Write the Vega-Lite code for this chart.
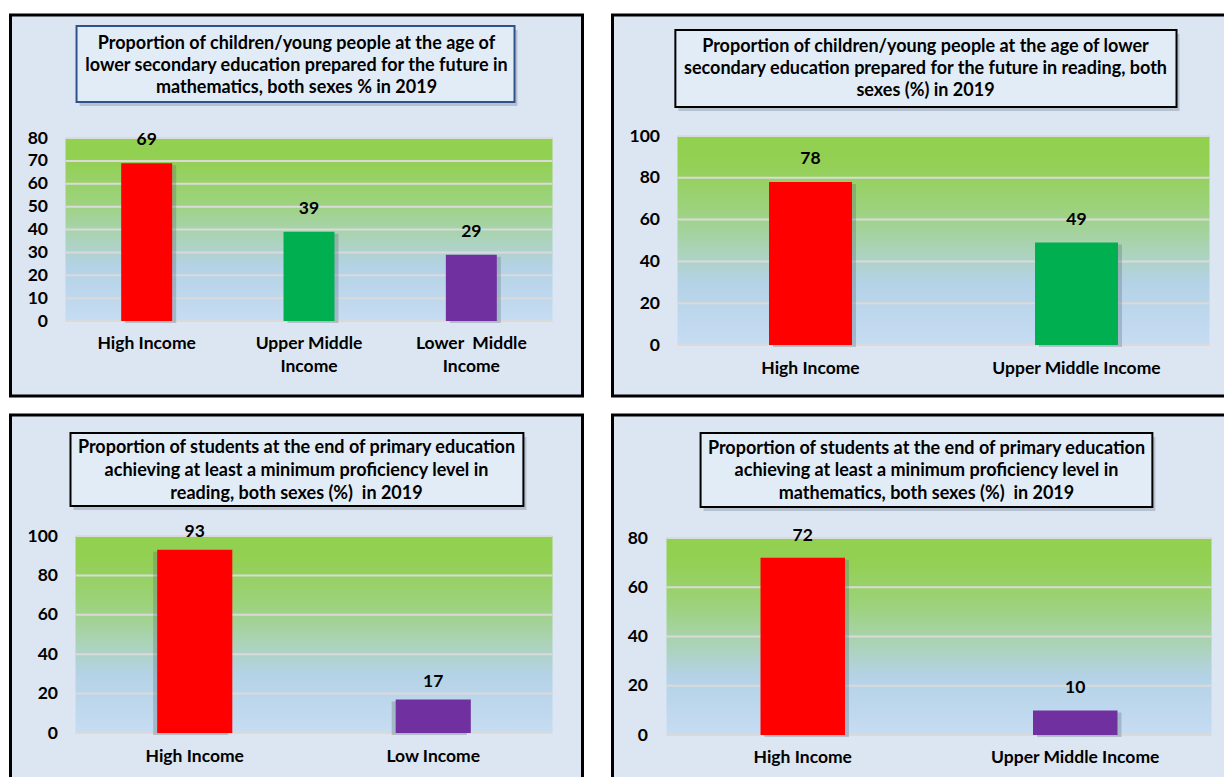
{
  "$schema": "https://vega.github.io/schema/vega-lite/v6.json",
  "background": "white",
  "padding": {"left": 8.5, "top": 13, "right": 0, "bottom": 0},
  "config": {
    "view": {"fill": "#dce6f2", "stroke": "#000000", "strokeWidth": 3},
    "axis": {"grid": false, "domain": false, "ticks": false, "labelFont": "Lato", "labelFontSize": 17.5, "labelFontWeight": "bold", "labelColor": "#000000", "labelAngle": 0, "labelLimit": 0},
    "text": {"font": "Lato", "fontWeight": "bold", "fontSize": 17.5, "color": "#000000"}
  },
  "resolve": {"scale": {"color": "independent"}},
  "spacing": 15,
  "vconcat": [
    {
      "spacing": 26,
      "resolve": {"scale": {"color": "independent"}},
      "hconcat": [
        {
          "width": 572, "height": 381,
          "data": {"values": [
            {"group": "High Income", "value": 69},
            {"group": "Upper Middle Income", "value": 39},
            {"group": "Lower Middle Income", "value": 29}
          ]},
          "layer": [
            {
              "data": {"values": [{}]},
              "mark": {"type": "rect", "fill": {"gradient": "linear", "x1": 0, "y1": 0, "x2": 0, "y2": 1, "stops": [
                {"offset": 0, "color": "#92d050"}, {"offset": 0.12, "color": "#93d053"}, {"offset": 0.35, "color": "#9dd27d"},
                {"offset": 0.55, "color": "#abd3b9"}, {"offset": 0.7, "color": "#b4d2e6"}, {"offset": 1, "color": "#c6dcf2"}]}},
              "encoding": {
                "x": {"datum": "High Income", "type": "nominal", "bandPosition": 0},
                "x2": {"datum": "Lower Middle Income", "bandPosition": 1},
                "y": {"datum": 0, "type": "quantitative"},
                "y2": {"datum": 80}
              }
            },
            {
              "data": {"values": [{"tick": 0}, {"tick": 10}, {"tick": 20}, {"tick": 30}, {"tick": 40}, {"tick": 50}, {"tick": 60}, {"tick": 70}, {"tick": 80}]},
              "mark": {"type": "rule", "color": "#dadada", "strokeWidth": 2},
              "encoding": {
                "x": {"datum": "High Income", "type": "nominal", "bandPosition": 0},
                "x2": {"datum": "Lower Middle Income", "bandPosition": 1},
                "y": {"field": "tick", "type": "quantitative"}
              }
            },
            {
              "mark": {"type": "bar", "width": {"band": 0.314}, "color": "#5a6675", "opacity": 0.3, "xOffset": 4, "yOffset": 2},
              "encoding": {
                "x": {"field": "group", "type": "nominal", "sort": null},
                "y": {"field": "value", "type": "quantitative"}
              }
            },
            {
              "mark": {"type": "bar", "width": {"band": 0.314}},
              "encoding": {
                "x": {"field": "group", "type": "nominal", "sort": null,
                  "scale": {"domain": ["High Income", "Upper Middle Income", "Lower Middle Income"], "range": [55, 542], "paddingInner": 0, "paddingOuter": 0},
                  "axis": {"orient": "bottom", "offset": -75, "title": null, "labelPadding": 13, "labelLineHeight": 23,
                    "labelExpr": "datum.value == 'Upper Middle Income' ? ['Upper Middle', 'Income'] : datum.value == 'Lower Middle Income' ? ['Lower \u00a0Middle', 'Income'] : datum.label"}},
                "y": {"field": "value", "type": "quantitative",
                  "scale": {"domain": [0, 80], "range": [306, 123], "nice": false},
                  "axis": {"orient": "left", "offset": -55, "title": null, "labelPadding": 18, "tickCount": 8}},
                "color": {"field": "group", "type": "nominal", "legend": null,
                  "scale": {"domain": ["High Income", "Upper Middle Income", "Lower Middle Income"], "range": ["#ff0000", "#00b050", "#7030a0"]}}
              }
            },
            {
              "mark": {"type": "text", "baseline": "middle", "dy": -23},
              "encoding": {
                "x": {"field": "group", "type": "nominal", "sort": null},
                "y": {"field": "value", "type": "quantitative"},
                "text": {"field": "value", "type": "quantitative"}
              }
            },
            {
              "data": {"values": [{}]},
              "mark": {"type": "rect", "fill": "#8794a6", "opacity": 0.45, "xOffset": 3, "x2Offset": 3, "yOffset": 4, "y2Offset": 4},
              "encoding": {
                "x": {"datum": "High Income", "type": "nominal", "bandPosition": 0.068},
                "x2": {"datum": "Lower Middle Income", "bandPosition": 0.766},
                "y": {"datum": 129, "type": "quantitative"},
                "y2": {"datum": 95.7}
              }
            },
            {
              "data": {"values": [{}]},
              "mark": {"type": "rect", "fill": "#e2ecf7", "stroke": "#2f528f", "strokeWidth": 2},
              "encoding": {
                "x": {"datum": "High Income", "type": "nominal", "bandPosition": 0.068},
                "x2": {"datum": "Lower Middle Income", "bandPosition": 0.766},
                "y": {"datum": 129, "type": "quantitative"},
                "y2": {"datum": 95.7}
              }
            },
            {
              "data": {"values": [{}]},
              "mark": {"type": "text", "lineBreak": "\n", "lineHeight": 22, "fontSize": 18, "baseline": "middle", "align": "center"},
              "encoding": {
                "y": {"datum": 121.1, "type": "quantitative"},
                "text": {"value": "Proportion of children/young people at the age of\nlower secondary education prepared for the future in\nmathematics, both sexes % in 2019"}
              }
            }
          ]
        },
        {
          "width": 620, "height": 381,
          "data": {"values": [
            {"group": "High Income", "value": 78},
            {"group": "Upper Middle Income", "value": 49}
          ]},
          "layer": [
            {
              "data": {"values": [{}]},
              "mark": {"type": "rect", "fill": {"gradient": "linear", "x1": 0, "y1": 0, "x2": 0, "y2": 1, "stops": [
                {"offset": 0, "color": "#92d050"}, {"offset": 0.12, "color": "#93d053"}, {"offset": 0.35, "color": "#9dd27d"},
                {"offset": 0.55, "color": "#abd3b9"}, {"offset": 0.7, "color": "#b4d2e6"}, {"offset": 1, "color": "#c6dcf2"}]}},
              "encoding": {
                "x": {"datum": "High Income", "type": "nominal", "bandPosition": 0},
                "x2": {"datum": "Upper Middle Income", "bandPosition": 1},
                "y": {"datum": 0, "type": "quantitative"},
                "y2": {"datum": 100}
              }
            },
            {
              "data": {"values": [{"tick": 0}, {"tick": 20}, {"tick": 40}, {"tick": 60}, {"tick": 80}, {"tick": 100}]},
              "mark": {"type": "rule", "color": "#dadada", "strokeWidth": 2},
              "encoding": {
                "x": {"datum": "High Income", "type": "nominal", "bandPosition": 0},
                "x2": {"datum": "Upper Middle Income", "bandPosition": 1},
                "y": {"field": "tick", "type": "quantitative"}
              }
            },
            {
              "mark": {"type": "bar", "width": {"band": 0.312}, "color": "#5a6675", "opacity": 0.3, "xOffset": 4, "yOffset": 2},
              "encoding": {
                "x": {"field": "group", "type": "nominal", "sort": null},
                "y": {"field": "value", "type": "quantitative"}
              }
            },
            {
              "mark": {"type": "bar", "width": {"band": 0.312}},
              "encoding": {
                "x": {"field": "group", "type": "nominal", "sort": null,
                  "scale": {"domain": ["High Income", "Upper Middle Income"], "range": [65, 597], "paddingInner": 0, "paddingOuter": 0},
                  "axis": {"orient": "bottom", "offset": -51, "title": null, "labelPadding": 14}},
                "y": {"field": "value", "type": "quantitative",
                  "scale": {"domain": [0, 100], "range": [330, 121], "nice": false},
                  "axis": {"orient": "left", "offset": -65, "title": null, "labelPadding": 18, "tickCount": 5}},
                "color": {"field": "group", "type": "nominal", "legend": null,
                  "scale": {"domain": ["High Income", "Upper Middle Income"], "range": ["#ff0000", "#00b050"]}}
              }
            },
            {
              "mark": {"type": "text", "baseline": "middle", "dy": -23},
              "encoding": {
                "x": {"field": "group", "type": "nominal", "sort": null},
                "y": {"field": "value", "type": "quantitative"},
                "text": {"field": "value", "type": "quantitative"}
              }
            },
            {
              "data": {"values": [{}]},
              "mark": {"type": "rect", "fill": "#8794a6", "opacity": 0.45, "xOffset": 3, "x2Offset": 3, "yOffset": 4, "y2Offset": 4},
              "encoding": {
                "x": {"datum": "High Income", "type": "nominal", "bandPosition": -0.008},
                "x2": {"datum": "Upper Middle Income", "bandPosition": 0.876},
                "y": {"datum": 150.7, "type": "quantitative"},
                "y2": {"datum": 113.9}
              }
            },
            {
              "data": {"values": [{}]},
              "mark": {"type": "rect", "fill": "#e2ecf7", "stroke": "#000000", "strokeWidth": 2},
              "encoding": {
                "x": {"datum": "High Income", "type": "nominal", "bandPosition": -0.008},
                "x2": {"datum": "Upper Middle Income", "bandPosition": 0.876},
                "y": {"datum": 150.7, "type": "quantitative"},
                "y2": {"datum": 113.9}
              }
            },
            {
              "data": {"values": [{}]},
              "mark": {"type": "text", "lineBreak": "\n", "lineHeight": 22, "fontSize": 18, "baseline": "middle", "align": "center", "dx": 3},
              "encoding": {
                "y": {"datum": 142.7, "type": "quantitative"},
                "text": {"value": "Proportion of children/young people at the age of lower\nsecondary education prepared for the future in reading, both\nsexes (%) in 2019"}
              }
            }
          ]
        }
      ]
    },
    {
      "spacing": 26,
      "resolve": {"scale": {"color": "independent"}},
      "hconcat": [
        {
          "width": 572, "height": 372,
          "data": {"values": [
            {"group": "High Income", "value": 93},
            {"group": "Low Income", "value": 17}
          ]},
          "layer": [
            {
              "data": {"values": [{}]},
              "mark": {"type": "rect", "fill": {"gradient": "linear", "x1": 0, "y1": 0, "x2": 0, "y2": 1, "stops": [
                {"offset": 0, "color": "#92d050"}, {"offset": 0.12, "color": "#93d053"}, {"offset": 0.35, "color": "#9dd27d"},
                {"offset": 0.55, "color": "#abd3b9"}, {"offset": 0.7, "color": "#b4d2e6"}, {"offset": 1, "color": "#c6dcf2"}]}},
              "encoding": {
                "x": {"datum": "High Income", "type": "nominal", "bandPosition": 0},
                "x2": {"datum": "Low Income", "bandPosition": 1},
                "y": {"datum": 0, "type": "quantitative"},
                "y2": {"datum": 100}
              }
            },
            {
              "data": {"values": [{"tick": 0}, {"tick": 20}, {"tick": 40}, {"tick": 60}, {"tick": 80}, {"tick": 100}]},
              "mark": {"type": "rule", "color": "#dadada", "strokeWidth": 2},
              "encoding": {
                "x": {"datum": "High Income", "type": "nominal", "bandPosition": 0},
                "x2": {"datum": "Low Income", "bandPosition": 1},
                "y": {"field": "tick", "type": "quantitative"}
              }
            },
            {
              "mark": {"type": "bar", "width": {"band": 0.315}, "color": "#5a6675", "opacity": 0.3, "xOffset": -4, "yOffset": 2},
              "encoding": {
                "x": {"field": "group", "type": "nominal", "sort": null},
                "y": {"field": "value", "type": "quantitative"}
              }
            },
            {
              "mark": {"type": "bar", "width": {"band": 0.315}},
              "encoding": {
                "x": {"field": "group", "type": "nominal", "sort": null,
                  "scale": {"domain": ["High Income", "Low Income"], "range": [65, 542], "paddingInner": 0, "paddingOuter": 0},
                  "axis": {"orient": "bottom", "offset": -54, "title": null, "labelPadding": 14}},
                "y": {"field": "value", "type": "quantitative",
                  "scale": {"domain": [0, 100], "range": [318, 121], "nice": false},
                  "axis": {"orient": "left", "offset": -65, "title": null, "labelPadding": 18, "tickCount": 5}},
                "color": {"field": "group", "type": "nominal", "legend": null,
                  "scale": {"domain": ["High Income", "Low Income"], "range": ["#ff0000", "#7030a0"]}}
              }
            },
            {
              "mark": {"type": "text", "baseline": "middle", "dy": -18},
              "encoding": {
                "x": {"field": "group", "type": "nominal", "sort": null},
                "y": {"field": "value", "type": "quantitative"},
                "text": {"field": "value", "type": "quantitative"}
              }
            },
            {
              "data": {"values": [{}]},
              "mark": {"type": "rect", "fill": "#8794a6", "opacity": 0.45, "xOffset": 3, "x2Offset": 3, "yOffset": 4, "y2Offset": 4},
              "encoding": {
                "x": {"datum": "High Income", "type": "nominal", "bandPosition": -0.021},
                "x2": {"datum": "Low Income", "bandPosition": 0.878},
                "y": {"datum": 152.3, "type": "quantitative"},
                "y2": {"datum": 115.2}
              }
            },
            {
              "data": {"values": [{}]},
              "mark": {"type": "rect", "fill": "#e2ecf7", "stroke": "#000000", "strokeWidth": 2},
              "encoding": {
                "x": {"datum": "High Income", "type": "nominal", "bandPosition": -0.021},
                "x2": {"datum": "Low Income", "bandPosition": 0.878},
                "y": {"datum": 152.3, "type": "quantitative"},
                "y2": {"datum": 115.2}
              }
            },
            {
              "data": {"values": [{}]},
              "mark": {"type": "text", "lineBreak": "\n", "lineHeight": 23, "fontSize": 18, "baseline": "middle", "align": "center"},
              "encoding": {
                "y": {"datum": 144.7, "type": "quantitative"},
                "text": {"value": "Proportion of students at the end of primary education\nachieving at least a minimum proficiency level in\nreading, both sexes (%) \u00a0in 2019"}
              }
            }
          ]
        },
        {
          "width": 620, "height": 372,
          "data": {"values": [
            {"group": "High Income", "value": 72},
            {"group": "Upper Middle Income", "value": 10}
          ]},
          "layer": [
            {
              "data": {"values": [{}]},
              "mark": {"type": "rect", "fill": {"gradient": "linear", "x1": 0, "y1": 0, "x2": 0, "y2": 1, "stops": [
                {"offset": 0, "color": "#92d050"}, {"offset": 0.12, "color": "#93d053"}, {"offset": 0.35, "color": "#9dd27d"},
                {"offset": 0.55, "color": "#abd3b9"}, {"offset": 0.7, "color": "#b4d2e6"}, {"offset": 1, "color": "#c6dcf2"}]}},
              "encoding": {
                "x": {"datum": "High Income", "type": "nominal", "bandPosition": 0},
                "x2": {"datum": "Upper Middle Income", "bandPosition": 1},
                "y": {"datum": 0, "type": "quantitative"},
                "y2": {"datum": 80}
              }
            },
            {
              "data": {"values": [{"tick": 0}, {"tick": 20}, {"tick": 40}, {"tick": 60}, {"tick": 80}]},
              "mark": {"type": "rule", "color": "#dadada", "strokeWidth": 2},
              "encoding": {
                "x": {"datum": "High Income", "type": "nominal", "bandPosition": 0},
                "x2": {"datum": "Upper Middle Income", "bandPosition": 1},
                "y": {"field": "tick", "type": "quantitative"}
              }
            },
            {
              "mark": {"type": "bar", "width": {"band": 0.31}, "color": "#5a6675", "opacity": 0.3, "xOffset": 4, "yOffset": 2},
              "encoding": {
                "x": {"field": "group", "type": "nominal", "sort": null},
                "y": {"field": "value", "type": "quantitative"}
              }
            },
            {
              "mark": {"type": "bar", "width": {"band": 0.31}},
              "encoding": {
                "x": {"field": "group", "type": "nominal", "sort": null,
                  "scale": {"domain": ["High Income", "Upper Middle Income"], "range": [54, 599], "paddingInner": 0, "paddingOuter": 0},
                  "axis": {"orient": "bottom", "offset": -52, "title": null, "labelPadding": 13}},
                "y": {"field": "value", "type": "quantitative",
                  "scale": {"domain": [0, 80], "range": [320, 123], "nice": false},
                  "axis": {"orient": "left", "offset": -54, "title": null, "labelPadding": 19, "tickCount": 4}},
                "color": {"field": "group", "type": "nominal", "legend": null,
                  "scale": {"domain": ["High Income", "Upper Middle Income"], "range": ["#ff0000", "#7030a0"]}}
              }
            },
            {
              "mark": {"type": "text", "baseline": "middle", "dy": -22},
              "encoding": {
                "x": {"field": "group", "type": "nominal", "sort": null},
                "y": {"field": "value", "type": "quantitative"},
                "text": {"field": "value", "type": "quantitative"}
              }
            },
            {
              "data": {"values": [{}]},
              "mark": {"type": "rect", "fill": "#8794a6", "opacity": 0.45, "xOffset": 3, "x2Offset": 3, "yOffset": 4, "y2Offset": 4},
              "encoding": {
                "x": {"datum": "High Income", "type": "nominal", "bandPosition": 0.125},
                "x2": {"datum": "Upper Middle Income", "bandPosition": 0.783},
                "y": {"datum": 122.6, "type": "quantitative"},
                "y2": {"datum": 92.6}
              }
            },
            {
              "data": {"values": [{}]},
              "mark": {"type": "rect", "fill": "#e2ecf7", "stroke": "#000000", "strokeWidth": 2},
              "encoding": {
                "x": {"datum": "High Income", "type": "nominal", "bandPosition": 0.125},
                "x2": {"datum": "Upper Middle Income", "bandPosition": 0.783},
                "y": {"datum": 122.6, "type": "quantitative"},
                "y2": {"datum": 92.6}
              }
            },
            {
              "data": {"values": [{}]},
              "mark": {"type": "text", "lineBreak": "\n", "lineHeight": 22.5, "fontSize": 18, "baseline": "middle", "align": "center", "dx": 4},
              "encoding": {
                "y": {"datum": 116.2, "type": "quantitative"},
                "text": {"value": "Proportion of students at the end of primary education\nachieving at least a minimum proficiency level in\nmathematics, both sexes (%) \u00a0in 2019"}
              }
            }
          ]
        }
      ]
    }
  ]
}
